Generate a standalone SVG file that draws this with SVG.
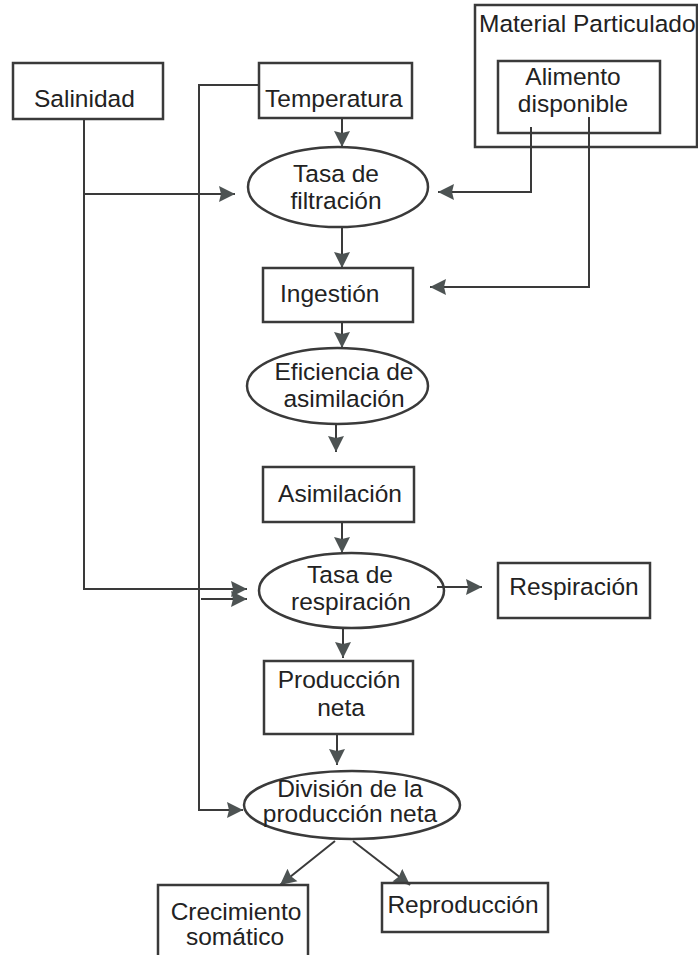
<svg xmlns="http://www.w3.org/2000/svg" width="698" height="955" viewBox="0 0 698 955">
<style>
.box{fill:none;stroke:#3a3a3a;stroke-width:2.5}
.ell{fill:none;stroke:#3a3a3a;stroke-width:2.5}
.t{font-family:"Liberation Sans",Arial,sans-serif;font-size:24.5px;fill:#222}
.m{text-anchor:middle}
.c{fill:none;stroke:#3a3a3a;stroke-width:2}
</style>
<defs>
<marker id="ah" markerUnits="userSpaceOnUse" markerWidth="18" markerHeight="18" viewBox="0 0 18 18" refX="16" refY="9" orient="auto">
<path d="M0,1 L16,9 L0,17 L2,9 z" fill="#4d5353"/>
</marker>
</defs>
<rect width="698" height="955" fill="#ffffff"/>
<g id="connectors">
<path class="c" d="M84,119 V589 H247" marker-end="url(#ah)"/>
<path class="c" d="M84,194 H235" marker-end="url(#ah)"/>
<path class="c" d="M259,85 H199 V810 H243" marker-end="url(#ah)"/>
<path class="c" d="M201,599 H247" marker-end="url(#ah)"/>
<path class="c" d="M342,118 V147" marker-end="url(#ah)"/>
<path class="c" d="M531,127 V192 H438" marker-end="url(#ah)"/>
<path class="c" d="M589,117 V287 H430" marker-end="url(#ah)"/>
<path class="c" d="M342,227 V268" marker-end="url(#ah)"/>
<path class="c" d="M342,322 V348" marker-end="url(#ah)"/>
<path class="c" d="M336,424 V452" marker-end="url(#ah)"/>
<path class="c" d="M342,522 V553" marker-end="url(#ah)"/>
<path class="c" d="M437,587 H482" marker-end="url(#ah)"/>
<path class="c" d="M343,628 V658" marker-end="url(#ah)"/>
<path class="c" d="M337,734 V765" marker-end="url(#ah)"/>
<path class="c" d="M335,841 L280,885" marker-end="url(#ah)"/>
<path class="c" d="M353,841 L410,885" marker-end="url(#ah)"/>
</g>
<g id="salinidad">
<rect class="box" x="13" y="63" width="150" height="56"/>
<text class="t" x="34" y="107">Salinidad</text>
</g>
<g id="temperatura">
<rect class="box" x="259" y="63" width="153" height="55"/>
<text class="t" x="265" y="107">Temperatura</text>
</g>
<g id="material-particulado">
<rect class="box" x="475" y="5" width="222" height="142"/>
<text class="t" x="479" y="32">Material Particulado</text>
</g>
<g id="alimento-disponible">
<rect class="box" x="498" y="61" width="162" height="72"/>
<text class="t m" x="573" y="85">Alimento</text>
<text class="t m" x="573" y="112">disponible</text>
</g>
<g id="tasa-filtracion">
<ellipse class="ell" cx="338" cy="187" rx="90" ry="40"/>
<text class="t m" x="336" y="182">Tasa de</text>
<text class="t m" x="336" y="209">filtración</text>
</g>
<g id="ingestion">
<rect class="box" x="263" y="268" width="150" height="54"/>
<text class="t" x="280" y="302">Ingestión</text>
</g>
<g id="eficiencia-asimilacion">
<ellipse class="ell" cx="337.5" cy="386" rx="90.5" ry="38"/>
<text class="t m" x="344" y="380">Eficiencia de</text>
<text class="t m" x="344" y="407">asimilación</text>
</g>
<g id="asimilacion">
<rect class="box" x="263" y="467" width="151" height="55"/>
<text class="t m" x="340" y="502">Asimilación</text>
</g>
<g id="tasa-respiracion">
<ellipse class="ell" cx="351.5" cy="590.5" rx="92.5" ry="37.5"/>
<text class="t m" x="350" y="583">Tasa de</text>
<text class="t m" x="351" y="610">respiración</text>
</g>
<g id="respiracion">
<rect class="box" x="498" y="563" width="152" height="55"/>
<text class="t m" x="574" y="595">Respiración</text>
</g>
<g id="produccion-neta">
<rect class="box" x="264" y="661" width="149" height="73"/>
<text class="t m" x="339" y="688">Producción</text>
<text class="t m" x="341" y="716">neta</text>
</g>
<g id="division-produccion-neta">
<ellipse class="ell" cx="352" cy="805" rx="108" ry="34"/>
<text class="t m" x="350" y="797">División de la</text>
<text class="t m" x="350" y="822">producción neta</text>
</g>
<g id="crecimiento-somatico">
<rect class="box" x="158" y="885" width="150" height="80"/>
<text class="t m" x="236" y="920">Crecimiento</text>
<text class="t m" x="235" y="945">somático</text>
</g>
<g id="reproduccion">
<rect class="box" x="382" y="883" width="166" height="49"/>
<text class="t m" x="463" y="913">Reproducción</text>
</g>
</svg>
